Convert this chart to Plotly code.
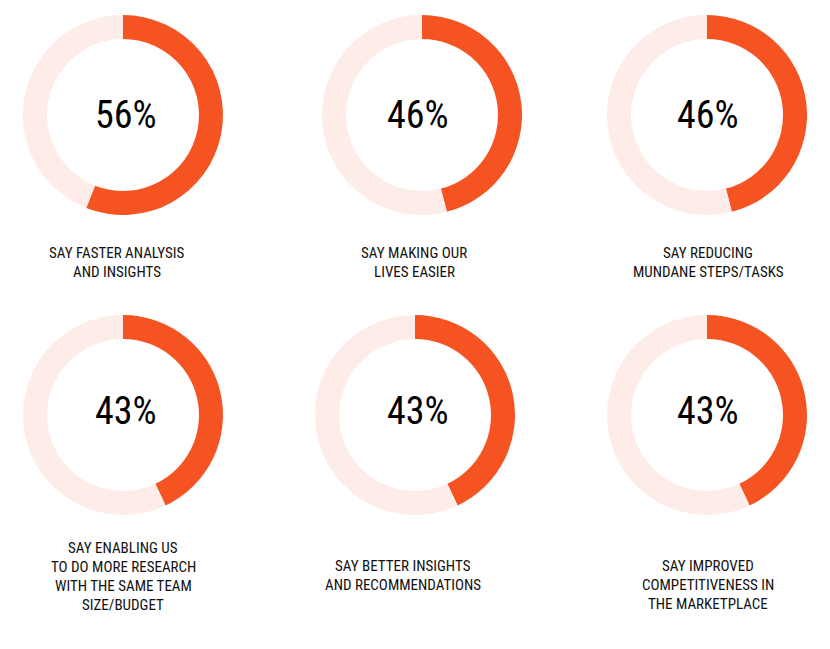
"""
Six donut gauges: what respondents say they gain, share of answers.
"""

import plotly.graph_objects as go

PERCENTS = [56, 46, 46, 43, 43, 43]
PCT_TEXT = ["56%", "46%", "46%", "43%", "43%", "43%"]
LABELS = [
    ["SAY FASTER ANALYSIS", "AND INSIGHTS"],
    ["SAY MAKING OUR", "LIVES EASIER"],
    ["SAY REDUCING", "MUNDANE STEPS/TASKS"],
    ["SAY ENABLING US", "TO DO MORE RESEARCH", "WITH THE SAME TEAM", "SIZE/BUDGET"],
    ["SAY BETTER INSIGHTS", "AND RECOMMENDATIONS"],
    ["SAY IMPROVED", "COMPETITIVENESS IN", "THE MARKETPLACE"],
]

W, H = 830, 649
PAGE_MARGIN = 8  # default <body> margin of the written page
ORANGE = "#F55322"
PINK = "#FDECE7"
FONT = "Roboto"
# Roboto is a variable font here, so the width axis gives a condensed face
NARROW = "font-stretch:condensed"

# layout in window pixels: donut centre, radius, percent text centre, label centre / first line y
DONUT_CENTERS = [(123, 115), (422, 115), (707, 115), (123, 415), (415, 415), (707, 415)]
RADIUS = 100
PCT_POS = [(126, 115), (418, 115), (708, 115), (126, 411), (418, 411), (708, 411)]
LABEL_POS = [(117, 253), (414, 253), (708, 253), (123, 548), (403, 566), (708, 566)]
LINE_STEP = 19


def px(x):
    return (x - PAGE_MARGIN) / W


def py(y):
    return 1 - (y - PAGE_MARGIN) / H


fig = go.Figure()

for i, pct in enumerate(PERCENTS):
    cx, cy = DONUT_CENTERS[i]
    fig.add_trace(
        go.Pie(
            values=[pct, 100 - pct],
            marker=dict(colors=[ORANGE, PINK], line=dict(width=0)),
            hole=0.76,
            sort=False,
            direction="clockwise",
            rotation=0,
            textinfo="none",
            hoverinfo="skip",
            showlegend=False,
            domain=dict(
                x=[px(cx - RADIUS), px(cx + RADIUS)],
                y=[py(cy + RADIUS), py(cy - RADIUS)],
            ),
        )
    )

    tx, ty = PCT_POS[i]
    fig.add_annotation(
        x=px(tx), y=py(ty), xref="paper", yref="paper",
        text=f'<span style="{NARROW}">{PCT_TEXT[i]}</span>', showarrow=False,
        xanchor="center", yanchor="middle",
        font=dict(family=FONT, size=38, color="#000"),
    )

    lx, ly = LABEL_POS[i]
    for j, line in enumerate(LABELS[i]):
        fig.add_annotation(
            x=px(lx), y=py(ly + j * LINE_STEP), xref="paper", yref="paper",
            text=f'<span style="{NARROW}">{line}</span>', showarrow=False,
            xanchor="center", yanchor="middle", borderpad=0,
            font=dict(family=FONT, size=15, color="#111"),
        )

fig.update_layout(
    width=W,
    height=H,
    margin=dict(l=0, r=0, t=0, b=0),
    paper_bgcolor="white",
    plot_bgcolor="white",
)

fig.write_html("out.html")
